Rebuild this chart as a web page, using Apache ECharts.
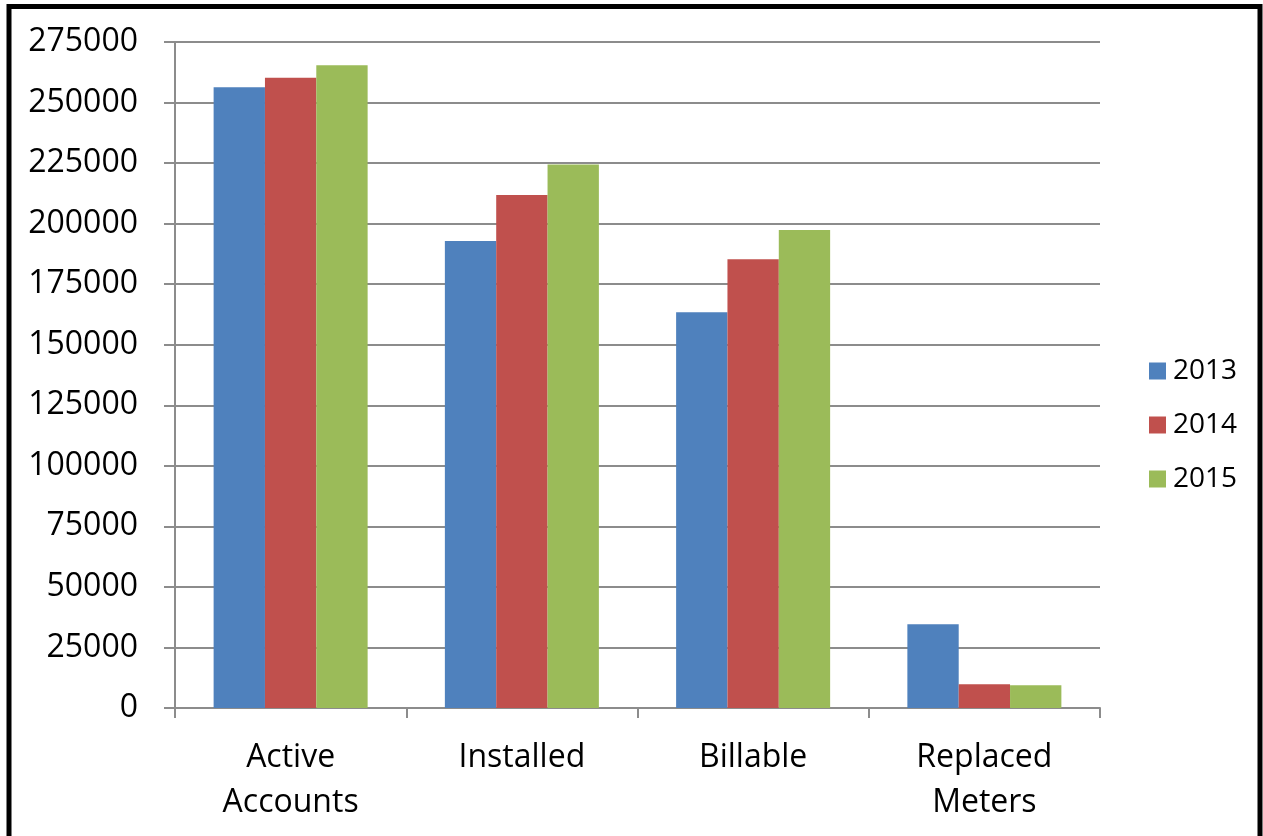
<!DOCTYPE html>
<html>
<head>
<meta charset="utf-8">
<script src="https://cdn.jsdelivr.net/npm/echarts@6/dist/echarts.min.js"></script>
<style>
  html, body { margin: 0; padding: 0; background: #fff; }
  #chart { width: 1263px; height: 836px; }
</style>
</head>
<body>
<div id="chart"></div>
<script>
// Meter and account counts by year
const categories = ['Active\nAccounts', 'Installed', 'Billable', 'Replaced\nMeters'];
const years = ['2013', '2014', '2015'];
const values2013 = [256300, 192800, 163400, 34600];
const values2014 = [260200, 211800, 185300, 9800];
const values2015 = [265400, 224400, 197400, 9400];
const colors = ['#4F81BD', '#C0504D', '#9BBB59'];

const FONT = '"Open Sans", "Liberation Sans", sans-serif';
const GRID_GREY = '#8C8C8C';

const seriesData = [values2013, values2014, values2015];

const chart = echarts.init(document.getElementById('chart'), null, { renderer: 'canvas' });

chart.setOption({
  backgroundColor: '#ffffff',
  animation: false,
  graphic: [{
    type: 'rect',
    shape: { x: 9, y: 6.5, width: 1251, height: 900 },
    style: { fill: 'none', stroke: '#000', lineWidth: 5 },
    silent: true,
    z: 100
  }],
  grid: { left: 175, right: 163, top: 42, bottom: 128 },
  legend: {
    orient: 'vertical',
    left: 1144,
    top: 352,
    itemWidth: 17,
    itemHeight: 17,
    itemGap: 26,
    icon: 'rect',
    data: years,
    textStyle: { fontFamily: FONT, fontSize: 28, color: '#000', padding: [0, 0, 0, 2] }
  },
  xAxis: {
    type: 'category',
    data: categories,
    axisLine: { lineStyle: { color: GRID_GREY, width: 2 } },
    axisTick: { show: true, length: 10, lineStyle: { color: GRID_GREY, width: 2 } },
    axisLabel: {
      fontFamily: FONT,
      fontSize: 32,
      color: '#000',
      lineHeight: 45,
      margin: 27
    }
  },
  yAxis: {
    type: 'value',
    min: 0,
    max: 275000,
    interval: 25000,
    axisLine: { show: true, lineStyle: { color: GRID_GREY, width: 2 } },
    axisTick: { show: true, length: 11, lineStyle: { color: GRID_GREY, width: 2 } },
    splitLine: { lineStyle: { color: GRID_GREY, width: 2 } },
    axisLabel: {
      fontFamily: FONT,
      fontSize: 32,
      color: '#000',
      margin: 37,
      formatter: v => String(v)
    }
  },
  series: years.map((y, i) => ({
    name: y,
    type: 'bar',
    data: seriesData[i],
    barGap: '0%',
    barCategoryGap: '33.4%',
    itemStyle: { color: colors[i] }
  }))
});
</script>
</body>
</html>
